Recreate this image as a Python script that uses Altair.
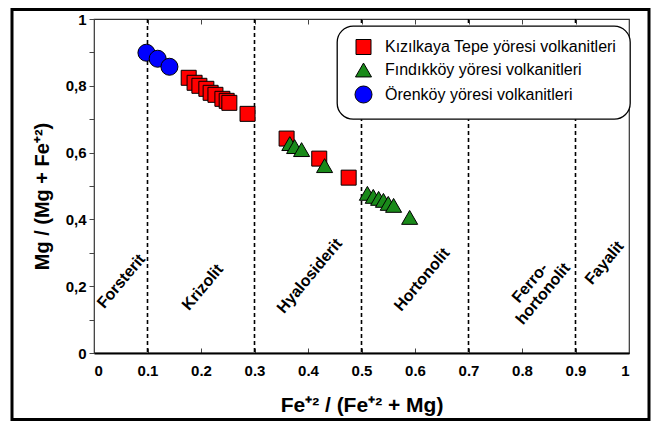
import altair as alt
import pandas as pd

# ---- data ----
kiz_x = [0.177, 0.188, 0.197, 0.210, 0.218, 0.227, 0.240, 0.248, 0.253, 0.287, 0.360, 0.421, 0.476]
kiz_y = [0.824, 0.809, 0.800, 0.791, 0.779, 0.773, 0.761, 0.755, 0.749, 0.716, 0.642, 0.582, 0.525]
fin_x = [0.366, 0.375, 0.388, 0.431, 0.511, 0.522, 0.532, 0.541, 0.550, 0.560, 0.590]
fin_y = [0.627, 0.618, 0.609, 0.561, 0.478, 0.469, 0.463, 0.457, 0.448, 0.442, 0.406]
oren_x = [0.098, 0.119, 0.141]
oren_y = [0.899, 0.881, 0.857]

series_names = ["Kızılkaya Tepe yöresi volkanitleri",
                "Fındıkköy yöresi volkanitleri",
                "Örenköy yöresi volkanitleri"]
series_colors = ["#ff0000", "#1a8a1a", "#0000ff"]
series_shapes = ["square", "triangle-up", "circle"]
series_sizes = [225, 290, 330]

boundaries = [0.1, 0.3, 0.5, 0.7, 0.9]
region_names = ["Forsterit", "Krizolit", "Hyalosiderit", "Hortonolit",
                "Ferro-\nhortonolit", "Fayalit"]
region_x = [0.051, 0.203, 0.403, 0.613, 0.815, 0.954]
region_y = [0.215, 0.197, 0.231, 0.22, 0.21, 0.27]

x_ticks = [0, 0.1, 0.2, 0.3, 0.4, 0.5, 0.6, 0.7, 0.8, 0.9, 1]
y_ticks = [0, 0.1, 0.2, 0.3, 0.4, 0.5, 0.6, 0.7, 0.8, 0.9, 1]

x_title = "Fe⁺² / (Fe⁺² + Mg)"
y_title = "Mg / (Mg + Fe⁺²)"

# ---- tables ----
rows = []
for name, xs, ys in zip(series_names, [kiz_x, fin_x, oren_x], [kiz_y, fin_y, oren_y]):
    for a, b in zip(xs, ys):
        rows.append({"x": a, "y": b, "series": name})
pts = pd.DataFrame(rows)
bnd = pd.DataFrame({"x": boundaries})
reg = pd.DataFrame({"x": region_x, "y": region_y, "label": region_names})

W, H = 535, 334
FONT = "Liberation Sans"

xs = alt.Scale(domain=[0, 1], nice=False, zero=False)
ys = alt.Scale(domain=[0, 1], nice=False, zero=False)

y_axis = alt.Axis(
    values=y_ticks, orient="left", grid=False, domain=False,
    tickSize=5, tickColor="#444", tickWidth=1,
    labelExpr="round(datum.value*10) % 2 == 1 ? '' : (datum.value == 0 ? '0' : datum.value == 1 ? '1' : replace(format(datum.value, '.1f'), '.', ','))",
    labelFont=FONT, labelFontWeight="bold", labelFontSize=15, labelColor="black",
    labelPadding=3, title=y_title, titleFont=FONT, titleFontWeight="bold",
    titleFontSize=20, titleColor="black", titlePadding=13, titleY=H / 2 + 10)

x_axis_main = alt.Axis(
    values=x_ticks, orient="bottom", grid=False, ticks=False,
    domain=True, domainColor="black", domainWidth=2,
    labelExpr="datum.value == 0 ? '0' : datum.value == 1 ? '1' : format(datum.value, '.1f')",
    labelFont=FONT, labelFontWeight="bold", labelFontSize=15, labelColor="black",
    labelPadding=10, title=x_title, titleFont=FONT, titleFontWeight="bold",
    titleFontSize=21, titleColor="black", titlePadding=16)

# inward ticks along the bottom edge
x_axis_bottom_in = alt.Axis(
    values=x_ticks, orient="top", offset=-H, grid=False, labels=False,
    domain=False, ticks=True, tickSize=5, tickColor="#444", title=None)
# inward ticks along the top edge
x_axis_top_in = alt.Axis(
    values=x_ticks, orient="bottom", offset=-H, grid=False, labels=False,
    domain=False, ticks=True, tickSize=5, tickColor="#444", title=None)

frame = alt.Chart(alt.Data(values=[{}])).mark_rect(
    fillOpacity=0, stroke="black", strokeWidth=3
).encode(
    x=alt.value(-82), x2=alt.value(W + 20),
    y=alt.value(-9.5), y2=alt.value(H + 66.5)
)

rules = alt.Chart(bnd).mark_rule(
    color="black", strokeWidth=1.6, strokeDash=[4, 3]
).encode(
    x=alt.X("x:Q", scale=xs, axis=x_axis_bottom_in)
)

labels = alt.Chart(reg).mark_text(
    angle=310, font=FONT, fontWeight="bold", fontSize=16, lineHeight=17,
    color="black", align="center", baseline="middle", lineBreak="\n"
).encode(
    x=alt.X("x:Q", scale=xs, axis=x_axis_top_in),
    y=alt.Y("y:Q", scale=ys, axis=y_axis),
    text="label:N"
)

legend = alt.Legend(
    title=None, orient="none", legendX=243, legendY=7,
    strokeColor="black", cornerRadius=16, fillColor="white",
    padding=13, rowPadding=4, labelFont=FONT, labelFontSize=16,
    labelColor="black", labelOffset=12, symbolOffset=4, symbolSize=225,
    symbolStrokeColor="black", symbolStrokeWidth=1, labelLimit=400
)

points = alt.Chart(pts).mark_point(
    filled=True, stroke="black", strokeWidth=1, opacity=1
).encode(
    x=alt.X("x:Q", scale=xs, axis=x_axis_main),
    y=alt.Y("y:Q", scale=ys, axis=y_axis),
    color=alt.Color("series:N", sort=series_names,
                    scale=alt.Scale(domain=series_names, range=series_colors),
                    legend=legend),
    shape=alt.Shape("series:N", sort=series_names,
                    scale=alt.Scale(domain=series_names, range=series_shapes),
                    legend=legend),
    size=alt.Size("series:N", sort=series_names,
                  scale=alt.Scale(domain=series_names, range=series_sizes),
                  legend=None),
)

chart = alt.layer(frame, rules, labels, points).resolve_axis(
    x="independent"
).properties(
    width=W, height=H,
    autosize=alt.AutoSizeParams(type="none"),
    padding={"left": 86, "top": 11, "right": 22, "bottom": 68},
    background="white"
).configure_view(
    stroke="#333", strokeWidth=1.2
).configure_legend(
    strokeWidth=1.3
)

chart.save("out.html", embed_options={"renderer": "svg", "actions": False})
